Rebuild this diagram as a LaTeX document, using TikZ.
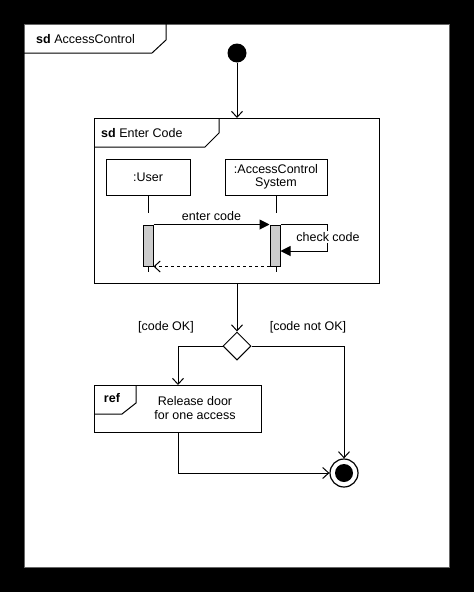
\documentclass[tikz,border=0pt]{standalone}
\usepackage{fontspec}
\setmainfont{Liberation Sans}
\usetikzlibrary{shapes.geometric,arrows.meta}
\newcommand{\umlfont}{\fontsize{12.5}{14.5}\selectfont}
\tikzstyle{initial}=[circle,
	fill=black,
	minimum size=19pt,
	inner sep=0pt]
\tikzstyle{final}=[circle,
	draw,
	line width=1.2pt,
	minimum size=28pt,
	inner sep=0pt]
\tikzstyle{umlframe}=[rectangle,
	draw,
	line width=1pt,
	anchor=north west,
	inner sep=0pt]
\tikzstyle{lifebox}=[rectangle,
	draw,
	line width=1pt,
	minimum height=36pt,
	align=center]
\tikzstyle{activation}=[rectangle,
	draw,
	line width=1pt,
	fill=gray!40,
	minimum width=10pt,
	minimum height=41pt,
	inner sep=0pt]
\tikzstyle{lifeline}=[line width=1pt,
	dash pattern=on 17pt off 13pt]
\tikzstyle{decision}=[diamond,
	draw,
	line width=1pt,
	minimum width=28pt,
	minimum height=28pt,
	inner sep=0pt]
\tikzstyle{flow}=[line width=1pt,
	-{Straight Barb[length=6pt,width=11pt]}]
\tikzstyle{msg}=[line width=1pt,
	-{Triangle[length=10pt,width=10pt]}]
\tikzstyle{reply}=[line width=1pt,
	dashed,
	-{Straight Barb[length=6pt,width=11pt]}]

\begin{document}
\begin{tikzpicture}[x=1pt,y=-1pt,font=\umlfont]
					\fill[black] (0,0) rectangle (474,592);
					\useasboundingbox (0,0) rectangle (474,592);

					% outer frame
					\node (outer) [umlframe, fill=white, draw=black!60, minimum width=425pt, minimum height=543pt] at (24,24) {};
					\draw[line width=1pt] (24,53) -- (152,53) -- (166,40) -- (166,24);
					\node (outertitle) [anchor=base west, inner sep=0pt] at (36,43) {\textbf{sd} AccessControl};

					\node (start) [initial] at (237,53) {};

					% sequence fragment
					\node (enter) [umlframe, minimum width=285pt, minimum height=165pt] at (94,118) {};
					\draw[line width=1pt] (94,147) -- (205,147) -- (219,133) -- (219,118);
					\node (entertitle) [anchor=base west, inner sep=0pt] at (101,137) {\textbf{sd} Enter Code};
					\draw[flow] (start) -- (start |- enter.north);

					\node (userbox) [lifebox, minimum width=84pt] at (148,177) {:User};
					\node (acbox) [lifebox, right of=userbox, node distance=128pt, minimum width=102pt] {:AccessControl\\[-1pt]System};
					\coordinate (userend) at (148,272);
					\coordinate (acend) at (276,272);
					\draw[lifeline] (userbox.south) -- (userend);
					\draw[lifeline] (acbox.south) -- (acend);
					\node (userbar) [activation] at (148,245.5) {};
					\node (acbar) [activation] at (275,245.5) {};
					\draw[msg] (userbar.north east) -- (acbar.north west) node[midway, above, inner sep=3pt]{enter code};
					\coordinate (selfret) at ([yshift=-5.5pt]acbar.east);
					\coordinate (selfcorner) at (327,251);
					\draw[msg] (acbar.north east) -| (selfcorner) -- (selfret);
					\node (checkcode) [fill=white, inner sep=1pt] at (328,237) {check code};
					\draw[reply] (acbar.south west) -- (userbar.south east);

					% decision
					\node (decision) [decision] at (237,346) {};
					\draw[flow] (enter.south -| decision) -- (decision.north);
					\node (ok) at (166,327) {[code OK]};
					\node (notok) at (308,327) {[code not OK]};

					% interaction use
					\node (release) [umlframe, minimum width=167pt, minimum height=47pt] at (94,385) {};
					\draw[line width=1pt] (94,414) -- (122,414) -- (136,403) -- (136,385);
					\node (reftitle) at (112,398) {\textbf{ref}};
					\node (releasetext) [align=center] at (195,408) {Release door\\[-1pt]for one access};

					\node (final) [final] at (344,473) {};
					\fill (final.center) circle (9pt);

					\draw[flow] (decision.west) -| (release.north);
					\draw[flow] (decision.east) -| (final.north);
					\draw[flow] (release.south) |- (final.west);
				\end{tikzpicture}
\end{document}
